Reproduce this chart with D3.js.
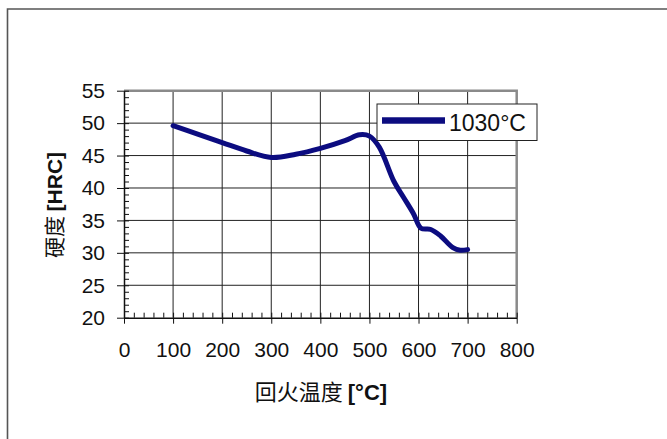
<!DOCTYPE html>
<html>
<head>
<meta charset="utf-8">
<script src="https://cdn.jsdelivr.net/npm/d3@7"></script>
<style>
  body { margin: 0; background: #fff; }
  text { font-family: "Liberation Sans", Arial, sans-serif; fill: #111; }
</style>
</head>
<body>
<svg id="chart"></svg>
<script>
// tempering temperature (°C) vs hardness (HRC), 1030°C hardening
const temps = [100, 150, 200, 250, 300, 350, 400, 450, 480, 500, 520, 550, 570, 590, 605, 625, 645, 670, 685, 700];
const hardness = [49.6, 48.3, 47.0, 45.7, 44.7, 45.2, 46.1, 47.3, 48.2, 48.0, 46.3, 41.0, 38.5, 36.0, 33.8, 33.6, 32.6, 30.8, 30.4, 30.5];
const seriesName = "1030°C";
const xTicks = [0, 100, 200, 300, 400, 500, 600, 700, 800];
const yTicks = [20, 25, 30, 35, 40, 45, 50, 55];

const width = 667;
const height = 439;
const margin = { top: 90.7, right: 150.3, bottom: 121.3, left: 124 };

const svg = d3.select("#chart").attr("width", width).attr("height", height);

// outer frame
svg.append("path")
  .attr("d", `M7.5,${height} V9 H${width}`)
  .attr("fill", "none")
  .attr("stroke", "#555")
  .attr("stroke-width", 1.6);

const x = d3.scaleLinear()
  .domain([0, 800])
  .range([margin.left, width - margin.right]);

const y = d3.scaleLinear()
  .domain([20, 55])
  .range([height - margin.bottom, margin.top]);

const grid = svg.append("g").attr("stroke", "#222").attr("stroke-width", 1);
grid.selectAll(".vg")
  .data(xTicks.slice(1, -1))
  .enter()
  .append("line")
  .attr("x1", (d) => x(d)).attr("x2", (d) => x(d))
  .attr("y1", y(55)).attr("y2", y(20));
grid.selectAll(".hg")
  .data(yTicks.slice(1, -1))
  .enter()
  .append("line")
  .attr("x1", x(0)).attr("x2", x(800))
  .attr("y1", (d) => y(d)).attr("y2", (d) => y(d));

// top and right border (gray)
svg.append("path")
  .attr("d", `M${x(0)},${y(55)} H${x(800)} V${y(20)}`)
  .attr("fill", "none")
  .attr("stroke", "#8a8a8a")
  .attr("stroke-width", 2.5);

// minor ticks (inside)
svg.append("g")
  .attr("transform", `translate(0,${y(20)})`)
  .call(d3.axisTop(x).ticks(40).tickSize(5).tickFormat(""))
  .call((g) => g.select(".domain").remove());
svg.append("g")
  .attr("transform", `translate(${x(0)},0)`)
  .call(d3.axisRight(y).ticks(35).tickSize(5).tickFormat(""))
  .call((g) => g.select(".domain").remove());

// major axes
const xAxis = svg.append("g")
  .attr("transform", `translate(0,${y(20)})`)
  .call(d3.axisBottom(x).tickValues(xTicks).tickSize(6).tickSizeOuter(0).tickPadding(18));
xAxis.selectAll("text")
  .style("font-size", "21px")
  .attr("fill", "#111");

const yAxis = svg.append("g")
  .attr("transform", `translate(${x(0)},0)`)
  .call(d3.axisLeft(y).tickValues(yTicks).tickSize(7).tickSizeOuter(0).tickPadding(12));
yAxis.selectAll("text")
  .style("font-size", "21px")
  .attr("fill", "#111");

svg.selectAll(".domain").attr("stroke", "#111").attr("stroke-width", 1.5);
svg.selectAll(".tick line").attr("stroke", "#111");

// series
const pts = temps.map((t, i) => [t, hardness[i]]);
svg.append("path")
  .datum(pts)
  .attr("fill", "none")
  .attr("stroke", "#0c0c80")
  .attr("stroke-width", 5)
  .attr("stroke-linecap", "round")
  .attr("stroke-linejoin", "round")
  .attr("d", d3.line()
    .x((d) => x(d[0]))
    .y((d) => y(d[1]))
    .curve(d3.curveCatmullRom.alpha(0.5)));

// legend
const lg = svg.append("g");
lg.append("rect")
  .attr("x", 377).attr("y", 104)
  .attr("width", 160).attr("height", 36.5)
  .attr("fill", "#fff")
  .attr("stroke", "#222")
  .attr("stroke-width", 1);
lg.append("line")
  .attr("x1", 382).attr("x2", 445)
  .attr("y1", 120.5).attr("y2", 120.5)
  .attr("stroke", "#0c0c80")
  .attr("stroke-width", 6.5);
lg.append("text")
  .attr("x", 449).attr("y", 131)
  .style("font-size", "23px")
  .text(seriesName);

// axis titles
const xt = svg.append("text")
  .attr("x", 321).attr("y", 400)
  .attr("text-anchor", "middle")
  .style("font-size", "22px");
xt.append("tspan").style("font-family", "'Noto Sans CJK SC', sans-serif").text("回火温度 ");
xt.append("tspan").style("font-weight", "bold").text("[°C]");

const yt = svg.append("text")
  .attr("transform", "translate(62,205) rotate(-90)")
  .attr("text-anchor", "middle")
  .style("font-size", "21px");
yt.append("tspan").style("font-family", "'Noto Sans CJK SC', sans-serif").text("硬度 ");
yt.append("tspan").style("font-weight", "bold").text("[HRC]");
</script>
</body>
</html>
